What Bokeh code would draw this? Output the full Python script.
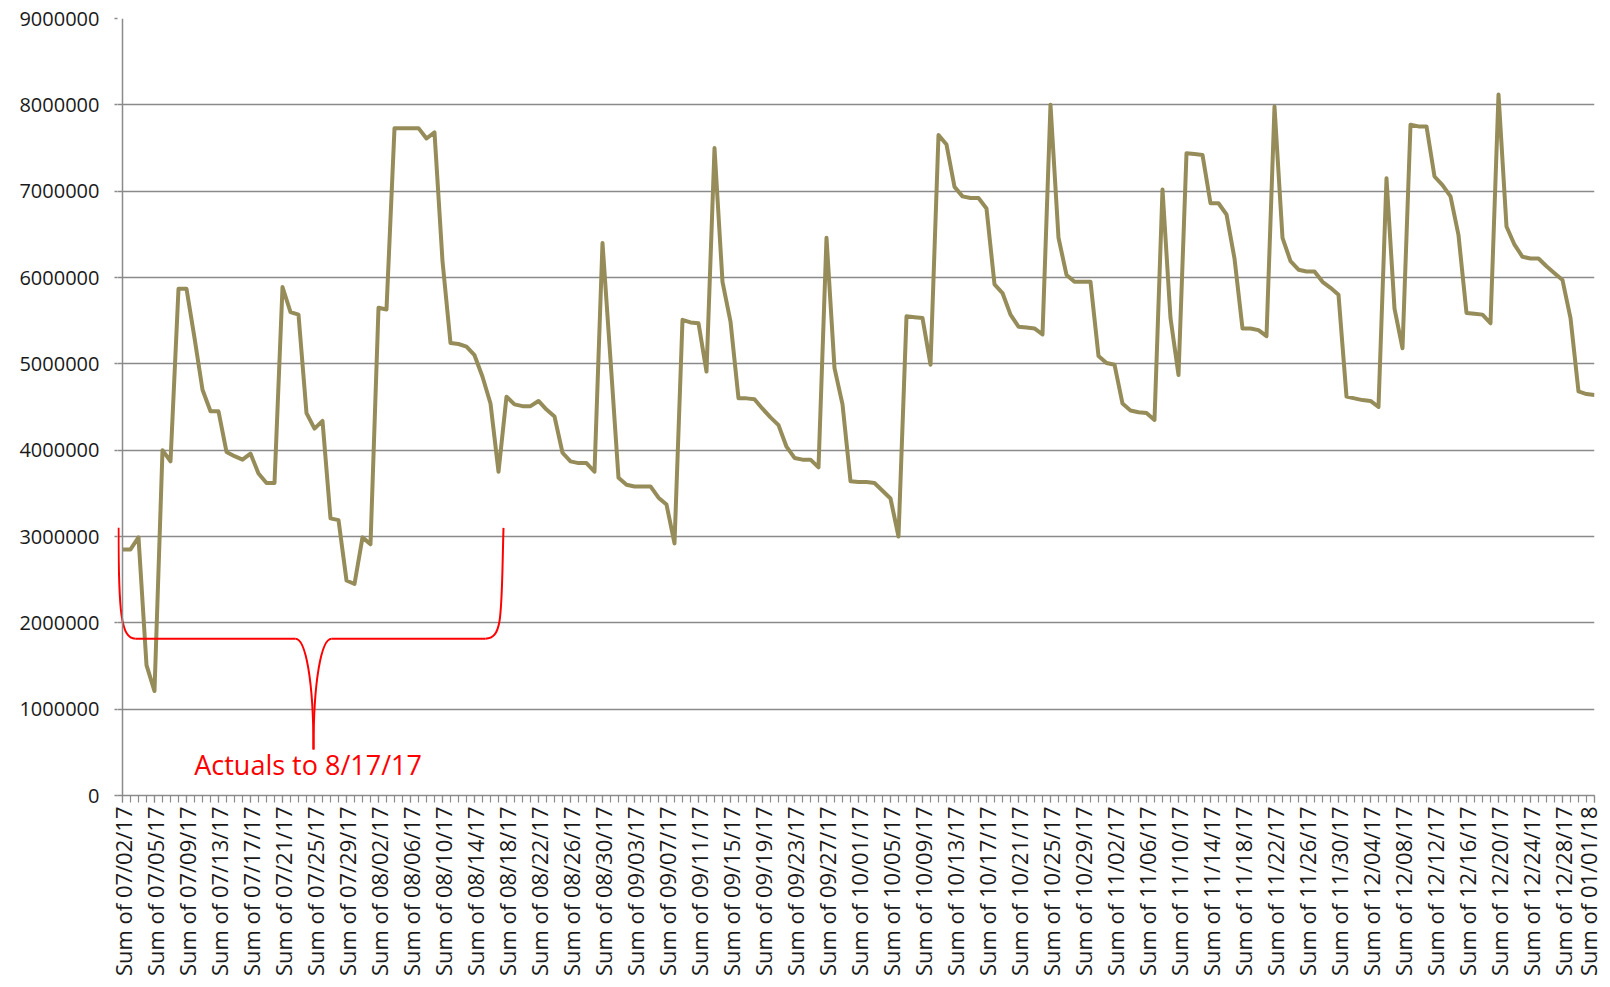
import numpy as np
from bokeh.plotting import figure
from bokeh.models import (Range1d, FixedTicker, ColumnDataSource, Label,
                          NumeralTickFormatter, Span)
from bokeh.embed import file_html
from bokeh.resources import INLINE

# ---------------- data ----------------
tick_labels = [
    "Sum of 07/02/17", "Sum of 07/05/17", "Sum of 07/09/17", "Sum of 07/13/17",
    "Sum of 07/17/17", "Sum of 07/21/17", "Sum of 07/25/17", "Sum of 07/29/17",
    "Sum of 08/02/17", "Sum of 08/06/17", "Sum of 08/10/17", "Sum of 08/14/17",
    "Sum of 08/18/17", "Sum of 08/22/17", "Sum of 08/26/17", "Sum of 08/30/17",
    "Sum of 09/03/17", "Sum of 09/07/17", "Sum of 09/11/17", "Sum of 09/15/17",
    "Sum of 09/19/17", "Sum of 09/23/17", "Sum of 09/27/17", "Sum of 10/01/17",
    "Sum of 10/05/17", "Sum of 10/09/17", "Sum of 10/13/17", "Sum of 10/17/17",
    "Sum of 10/21/17", "Sum of 10/25/17", "Sum of 10/29/17", "Sum of 11/02/17",
    "Sum of 11/06/17", "Sum of 11/10/17", "Sum of 11/14/17", "Sum of 11/18/17",
    "Sum of 11/22/17", "Sum of 11/26/17", "Sum of 11/30/17", "Sum of 12/04/17",
    "Sum of 12/08/17", "Sum of 12/12/17", "Sum of 12/16/17", "Sum of 12/20/17",
    "Sum of 12/24/17", "Sum of 12/28/17", "Sum of 01/01/18",
]
label_step = 4

values = [
    2850000, 2850000, 2990000, 1510000, 1210000, 4000000, 3870000, 5870000,
    5870000, 5300000, 4700000, 4450000, 4450000, 3980000, 3930000, 3890000,
    3960000, 3730000, 3620000, 3620000, 5890000, 5600000, 5570000, 4430000,
    4250000, 4340000, 3210000, 3190000, 2490000, 2450000, 2990000, 2910000,
    5650000, 5630000, 7730000, 7730000, 7730000, 7730000, 7610000, 7680000,
    6190000, 5240000, 5230000, 5200000, 5100000, 4850000, 4540000, 3750000,
    4620000, 4530000, 4510000, 4510000, 4570000, 4470000, 4390000, 3970000,
    3870000, 3850000, 3850000, 3750000, 6400000, 5050000, 3680000, 3600000,
    3580000, 3580000, 3580000, 3450000, 3370000, 2920000, 5510000, 5480000,
    5470000, 4910000, 7500000, 5950000, 5490000, 4600000, 4600000, 4590000,
    4480000, 4380000, 4290000, 4040000, 3910000, 3890000, 3890000, 3800000,
    6460000, 4950000, 4530000, 3640000, 3630000, 3630000, 3620000, 3530000,
    3440000, 3000000, 5550000, 5540000, 5530000, 4990000, 7650000, 7540000,
    7050000, 6940000, 6920000, 6920000, 6800000, 5920000, 5820000, 5570000,
    5430000, 5420000, 5410000, 5340000, 8000000, 6460000, 6030000, 5950000,
    5950000, 5950000, 5090000, 5010000, 4990000, 4540000, 4460000, 4440000,
    4430000, 4350000, 7020000, 5530000, 4870000, 7440000, 7430000, 7420000,
    6860000, 6860000, 6730000, 6220000, 5410000, 5410000, 5390000, 5320000,
    7980000, 6460000, 6190000, 6090000, 6070000, 6070000, 5950000, 5880000,
    5800000, 4620000, 4600000, 4580000, 4570000, 4500000, 7150000, 5640000,
    5180000, 7770000, 7750000, 7750000, 7170000, 7070000, 6940000, 6490000,
    5590000, 5580000, 5570000, 5470000, 8120000, 6590000, 6380000, 6240000,
    6220000, 6220000, 6130000, 6050000, 5970000, 5530000, 4680000, 4650000,
    4640000,
]

y_ticks = [0, 1000000, 2000000, 3000000, 4000000, 5000000,
           6000000, 7000000, 8000000, 9000000]

annotation_text = "Actuals to 8/17/17"

# ---------------- figure ----------------
n = len(values)
idx = list(range(n))
src = ColumnDataSource(dict(x=idx, y=values))

p = figure(width=1602, height=979, output_backend="svg", toolbar_location=None,
           x_range=Range1d(-0.625, n - 1), y_range=Range1d(y_ticks[0], y_ticks[-1]),
           min_border_left=117, min_border_right=8, min_border_top=18,
           min_border_bottom=183)
p.outline_line_color = None
p.background_fill_color = "white"
p.border_fill_color = "white"

grey = "#8a8a8a"
p.xgrid.visible = False
p.ygrid.grid_line_color = grey
p.ygrid.grid_line_width = 1.5

# y axis: labels + outer tick stubs at the frame edge, axis line on category 0
p.yaxis.ticker = FixedTicker(ticks=y_ticks)
p.yaxis.formatter = NumeralTickFormatter(format="0")
p.yaxis.axis_line_color = None
p.yaxis.major_tick_line_color = grey
p.yaxis.major_tick_line_width = 1.5
p.yaxis.major_tick_out = 3
p.yaxis.major_tick_in = 0
p.yaxis.minor_tick_line_color = None
p.yaxis.major_label_text_font = "Open Sans"
p.yaxis.major_label_text_font_size = "20px"
p.yaxis.major_label_text_color = "#1a1a1a"
p.yaxis.major_label_standoff = 15
p.add_layout(Span(location=0, dimension="height", line_color=grey,
                  line_width=1.5))

# x axis
major = list(range(0, n, label_step))
p.xaxis.ticker = FixedTicker(ticks=major, minor_ticks=idx)
p.xaxis.major_label_overrides = {m: lab for m, lab in zip(major, tick_labels)}
p.xaxis.major_label_orientation = np.pi / 2
p.xaxis.axis_line_color = grey
p.xaxis.axis_line_width = 1.5
p.xaxis.major_tick_line_color = grey
p.xaxis.minor_tick_line_color = grey
p.xaxis.major_tick_line_width = 1.2
p.xaxis.minor_tick_line_width = 1.2
p.xaxis.major_tick_out = 7
p.xaxis.major_tick_in = 0
p.xaxis.minor_tick_out = 7
p.xaxis.minor_tick_in = 0
p.xaxis.major_label_text_font = "Open Sans"
p.xaxis.major_label_text_font_size = "22px"
p.xaxis.major_label_text_color = "#1a1a1a"
p.xaxis.major_label_standoff = 4

# series line
p.line("x", "y", source=src, line_color="#968C59", line_width=4,
       line_join="round")

# ---------------- red brace annotation ----------------
bx_l, bx_l2, bx_m0, bx_m1, bx_m, bx_m2, bx_m3, bx_r2, bx_r = (
    -0.5, 1.625, 21.625, 22.875, 23.875, 24.875, 26.125, 45.375, 47.625)
by_top, by_bar, by_tip, by_mid = 3100000, 1817000, 532000, 1343000
brace = ColumnDataSource(dict(
    x0=[bx_l, bx_l2, bx_m0, bx_m, bx_m3, bx_r2],
    y0=[by_top, by_bar, by_bar, by_tip, by_bar, by_bar],
    x1=[bx_l2, bx_m0, bx_m, bx_m3, bx_r2, bx_r],
    y1=[by_bar, by_bar, by_tip, by_bar, by_bar, by_top],
    cx0=[bx_l, bx_l2, bx_m1, bx_m, bx_m3, bx_r],
    cy0=[by_bar + 300000, by_bar, by_bar, by_mid, by_bar, by_bar],
    cx1=[bx_l + 0.3, bx_m0, bx_m, bx_m2, bx_r2, bx_r - 0.3],
    cy1=[by_bar, by_bar, by_mid, by_bar, by_bar, by_bar + 300000],
))
p.bezier(x0="x0", y0="y0", x1="x1", y1="y1", cx0="cx0", cy0="cy0",
         cx1="cx1", cy1="cy1", source=brace, line_color="#FF0000",
         line_width=2)

p.add_layout(Label(x=23.2, y=360000, text=annotation_text,
                   text_font="Open Sans", text_font_size="27px",
                   text_color="#FF0000", text_align="center",
                   text_baseline="middle"))

open("out.html", "w").write(file_html(p, INLINE))
